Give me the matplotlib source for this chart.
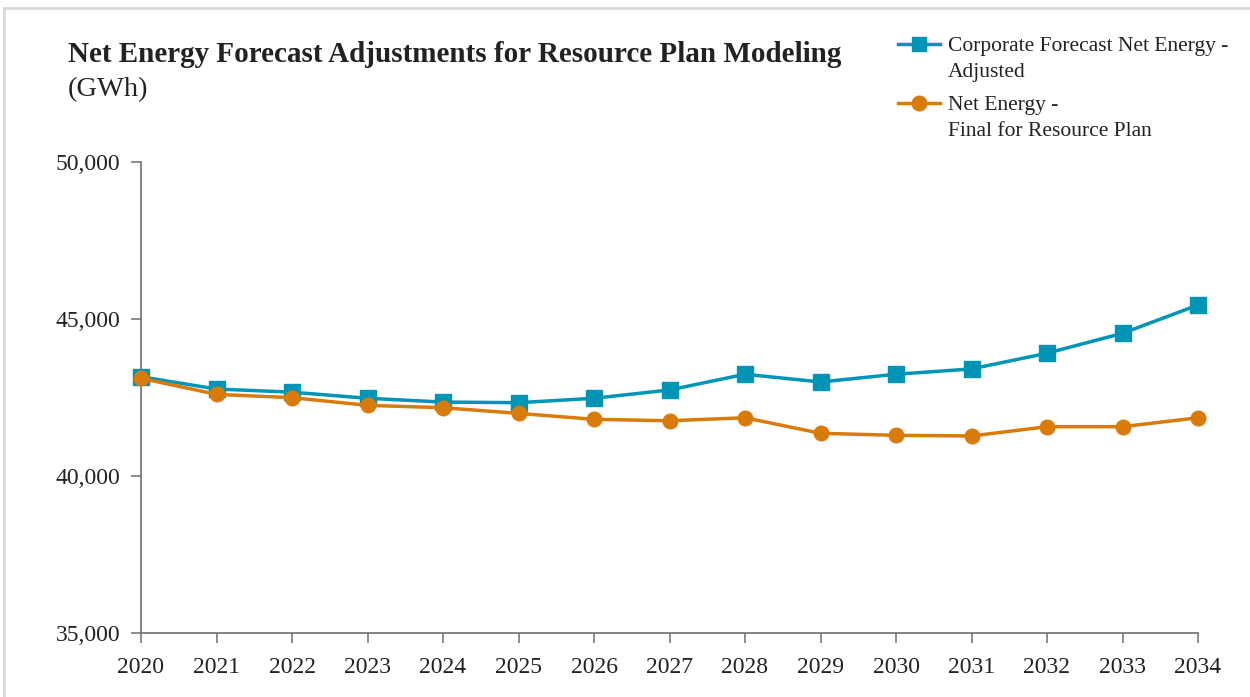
import matplotlib
matplotlib.use("Agg")
import matplotlib.pyplot as plt
from matplotlib.lines import Line2D
from matplotlib.patches import Rectangle
from matplotlib.ticker import FuncFormatter

years = list(range(2020, 2035))
corporate_adjusted = [43160, 42770, 42670, 42475, 42355, 42335, 42475, 42740,
                      43240, 42995, 43240, 43410, 43910, 44545, 45445]
final_resource_plan = [43110, 42600, 42495, 42250, 42175, 41995, 41805, 41760,
                       41855, 41360, 41295, 41275, 41570, 41570, 41855]
series_labels = ["Corporate Forecast Net Energy -\nAdjusted",
                 "Net Energy -\nFinal for Resource Plan"]
y_ticks = [35000, 40000, 45000, 50000]

BLUE = "#0095B6"
ORANGE = "#D97B0B"
AXIS = "#6E6E6E"
TEXT = "#222222"

plt.rcParams['font.family'] = ['Liberation Serif', 'DejaVu Serif']

W, H = 1250, 697
fig = plt.figure(figsize=(W / 100, H / 100), dpi=100)
fig.patch.set_facecolor("white")

ax = fig.add_axes([141 / W, 1 - 633 / H, (1198 - 141) / W, (633 - 162) / H])

ax.plot(years, corporate_adjusted, color=BLUE, lw=2.5, marker="s", ms=11,
        clip_on=False, zorder=3)
ax.plot(years, final_resource_plan, color=ORANGE, lw=2.5, marker="o", ms=10.5,
        clip_on=False, zorder=4)

ax.set_xlim(years[0], years[-1])
ax.set_ylim(y_ticks[0], y_ticks[-1])
ax.set_xticks(years)
ax.set_yticks(y_ticks)
ax.yaxis.set_major_formatter(FuncFormatter(lambda v, p: f"{int(v):,}"))

for s in ["top", "right"]:
    ax.spines[s].set_visible(False)
for s in ["left", "bottom"]:
    ax.spines[s].set_color(AXIS)
    ax.spines[s].set_linewidth(1.2)
ax.tick_params(axis="both", direction="out", length=7, width=1.1, color=AXIS,
               labelsize=17, labelcolor=TEXT)
ax.tick_params(axis="x", pad=10)
ax.tick_params(axis="y", pad=8)

# Title
fig.text(68 / W, 1 - 62 / H, "Net Energy Forecast Adjustments for Resource Plan Modeling",
         fontsize=21, fontweight="bold", color=TEXT, ha="left", va="baseline")
fig.text(68 / W, 1 - 96 / H, "(GWh)", fontsize=20.5, color=TEXT, ha="left", va="baseline")

# Legend (manual)
colors = [BLUE, ORANGE]
markers = ["s", "o"]
first_line_y = [44, 103]
for lab, c, m, yy in zip(series_labels, colors, markers, first_line_y):
    yf = 1 - yy / H
    fig.add_artist(Line2D([898 / W, 919 / W, 940 / W], [yf, yf, yf], color=c, lw=2.5,
                          marker=m, ms=10.5, markevery=[1]))
    fig.text(948 / W, 1 - (yy - 7) / H, lab, fontsize=15.5, color=TEXT, ha="left",
             va="top", linespacing=1.5, transform=fig.transFigure)

# Light grey frame
fig.add_artist(Rectangle((4 / W, -0.05), 1.2, 1 - 8 / H + 0.05, transform=fig.transFigure,
                         fill=False, edgecolor="#D9D9D9", lw=2))

fig.savefig("out.png", dpi=100)
